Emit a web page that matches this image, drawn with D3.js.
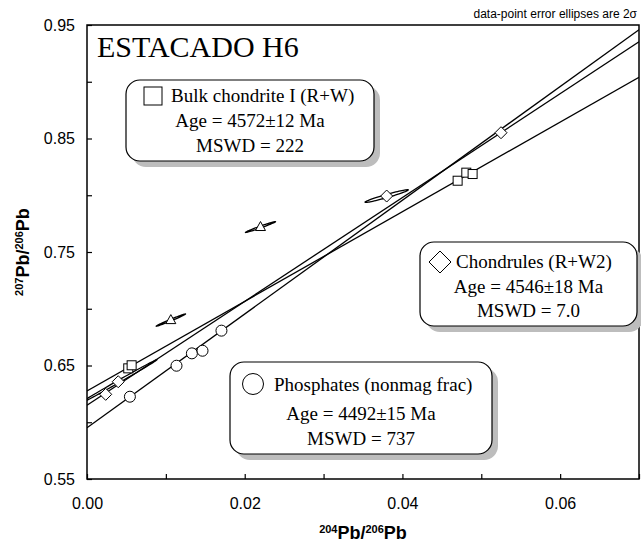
<!DOCTYPE html>
<html>
<head>
<meta charset="utf-8">
<script src="https://cdn.jsdelivr.net/npm/d3@7"></script>
<style>
  body { margin: 0; background: #fff; }
  svg { display: block; }
</style>
</head>
<body>
<div id="chart"></div>
<script>
// data
let phosX = [0.00544, 0.01135, 0.0133, 0.01465, 0.01705];
let phosY = [0.6225, 0.6498, 0.6607, 0.6630, 0.6807];

let bulkX = [0.00523, 0.00566, 0.0470, 0.0481, 0.0489];
let bulkY = [0.6475, 0.6502, 0.8128, 0.8199, 0.8187];

let chonX = [0.00237, 0.00396, 0.0380, 0.0525];
let chonY = [0.6246, 0.6357, 0.7993, 0.8551];

let triX = [0.01063, 0.0220];
let triY = [0.6900, 0.7720];

// error ellipses (2 sigma): point, sx, sy, rho
let ellX = [0.01063, 0.0220, 0.0380, 0.00396];
let ellY = [0.6900, 0.7720, 0.7993, 0.6357];
let ellSx = [0.00186, 0.0019, 0.00274, 0.0049];
let ellSy = [0.0054, 0.0048, 0.0056, 0.0194];
let ellRho = [0.99, 0.985, 0.965, 0.998];

// regression lines: intercept, slope
let lineNames = ["Phosphates", "Chondrules", "Bulk"];
let lineB = [0.5952, 0.6150, 0.6275];
let lineM = [5.01, 4.575, 3.95];

let xTicks = [0, 0.01, 0.02, 0.03, 0.04, 0.05, 0.06, 0.07];
let yTicks = [0.55, 0.60, 0.65, 0.70, 0.75, 0.80, 0.85, 0.90, 0.95];

let legendNames = ["Bulk chondrite I (R+W)", "Chondrules (R+W2)", "Phosphates (nonmag frac)"];
let legendAges = ["Age = 4572\u00b112 Ma", "Age = 4546\u00b118 Ma", "Age = 4492\u00b115 Ma"];
let legendMswd = ["MSWD = 222", "MSWD = 7.0", "MSWD = 737"];

let W = 641, H = 543;
let margin = { top: 25, right: 2, bottom: 64, left: 87 };
let width = W - margin.left - margin.right, height = H - margin.top - margin.bottom;

let x = d3.scaleLinear().domain([0, 0.07]).range([margin.left, margin.left + width]);
let y = d3.scaleLinear().domain([0.55, 0.95]).range([margin.top + height, margin.top]);

const svg = d3.select("#chart").append("svg")
  .attr("width", W).attr("height", H)
  .style("font-family", "Arial, 'Liberation Sans', sans-serif");

svg.append("defs").append("clipPath")
  .attr("id", "clipPlot")
  .append("rect")
  .attr("x", margin.left).attr("y", margin.top)
  .attr("width", width).attr("height", height);

// axes with inward ticks
let xAxis = d3.axisBottom(x).tickValues(xTicks).tickSize(-5).tickPadding(19)
  .tickFormat(d => Math.round(d * 100) % 2 == 0 && d < 0.07 ? d.toFixed(2) : "");
let yAxis = d3.axisLeft(y).tickValues(yTicks).tickSize(-5).tickPadding(12)
  .tickFormat(d => Math.round((d - 0.55) * 20) % 2 == 0 ? d.toFixed(2) : "");

let gx = svg.append("g").attr("transform", "translate(0," + (margin.top + height) + ")").call(xAxis);
let gy = svg.append("g").attr("transform", "translate(" + margin.left + ",0)").call(yAxis);
[gx, gy].forEach(g => {
  g.select(".domain").remove();
  g.selectAll("line").attr("stroke", "#000").attr("stroke-width", 1.2);
  g.selectAll("text").attr("font-size", 16).attr("fill", "#000")
    .style("font-family", "Arial, 'Liberation Sans', sans-serif");
});

// frame
svg.append("rect")
  .attr("x", margin.left).attr("y", margin.top)
  .attr("width", width).attr("height", height)
  .attr("fill", "none").attr("stroke", "#000").attr("stroke-width", 1.5);

const plot = svg.append("g").attr("clip-path", "url(#clipPlot)");

// regression lines
plot.selectAll(".fit")
  .data(lineNames)
  .join("line")
  .attr("class", "fit")
  .attr("x1", x(0)).attr("x2", x(0.07))
  .attr("y1", (d, i) => y(lineB[i]))
  .attr("y2", (d, i) => y(lineB[i] + lineM[i] * 0.07))
  .attr("stroke", "#000").attr("stroke-width", 1.3);

// error ellipses
let ellipsePath = function (i) {
  let pts = d3.range(0, 73).map(k => {
    let t = k / 72 * 2 * Math.PI;
    let dx = ellSx[i] * Math.cos(t);
    let dy = ellSy[i] * (ellRho[i] * Math.cos(t) + Math.sqrt(1 - ellRho[i] * ellRho[i]) * Math.sin(t));
    return [x(ellX[i] + dx), y(ellY[i] + dy)];
  });
  return d3.line()(pts) + "Z";
};
plot.selectAll(".ell")
  .data(ellX)
  .join("path")
  .attr("class", "ell")
  .attr("d", (d, i) => ellipsePath(i))
  .attr("fill", "none").attr("stroke", "#000").attr("stroke-width", 1.3);

// markers
plot.selectAll(".phos")
  .data(phosX)
  .join("circle")
  .attr("cx", d => x(d)).attr("cy", (d, i) => y(phosY[i]))
  .attr("r", 5.5)
  .attr("fill", "#fff").attr("stroke", "#000").attr("stroke-width", 1);

plot.selectAll(".bulk")
  .data(bulkX)
  .join("rect")
  .attr("x", d => x(d) - 4.5).attr("y", (d, i) => y(bulkY[i]) - 4.5)
  .attr("width", 9).attr("height", 9)
  .attr("fill", "#fff").attr("stroke", "#000").attr("stroke-width", 1);

plot.selectAll(".chon")
  .data(chonX)
  .join("path")
  .attr("d", "M0,-6L6,0L0,6L-6,0Z")
  .attr("transform", (d, i) => "translate(" + x(d) + "," + y(chonY[i]) + ")")
  .attr("fill", "#fff").attr("stroke", "#000").attr("stroke-width", 1);

plot.selectAll(".tri")
  .data(triX)
  .join("path")
  .attr("d", "M0,-5.5L5,3.5L-5,3.5Z")
  .attr("transform", (d, i) => "translate(" + x(d) + "," + y(triY[i]) + ")")
  .attr("fill", "#fff").attr("stroke", "#000").attr("stroke-width", 1);

// legend boxes
let boxes = [
  { x: 126, y: 80, w: 248, h: 81, tx: 171, lines: [102, 127, 152] },
  { x: 420, y: 242, w: 217, h: 84, tx: 456, lines: [268, 293, 317] },
  { x: 230, y: 362, w: 262, h: 92, tx: 274, lines: [391, 420, 445] }
];
let serif = "'Times New Roman', 'Liberation Serif', serif";
boxes.forEach((b, i) => {
  let g = svg.append("g")
    .attr("font-family", serif).attr("font-size", 19).attr("fill", "#000");
  g.append("rect")
    .attr("x", b.x + 6).attr("y", b.y + 6).attr("width", b.w).attr("height", b.h)
    .attr("rx", 14).attr("fill", "#bdbdbd");
  g.append("rect")
    .attr("x", b.x).attr("y", b.y).attr("width", b.w).attr("height", b.h)
    .attr("rx", 14).attr("fill", "#fff").attr("stroke", "#000").attr("stroke-width", 1.2);
  let cx = b.x + b.w / 2;
  g.append("text").attr("x", b.tx).attr("y", b.lines[0])
    .text(legendNames[i]);
  g.append("text").attr("x", cx).attr("y", b.lines[1])
    .attr("text-anchor", "middle")
    .text(legendAges[i]);
  g.append("text").attr("x", cx).attr("y", b.lines[2])
    .attr("text-anchor", "middle")
    .text(legendMswd[i]);
});
// legend markers
svg.append("rect").attr("x", 144).attr("y", 87).attr("width", 18).attr("height", 18)
  .attr("fill", "#fff").attr("stroke", "#000").attr("stroke-width", 1);
svg.append("path").attr("d", "M0,-11L11,0L0,11L-11,0Z")
  .attr("transform", "translate(440,262)")
  .attr("fill", "#fff").attr("stroke", "#000").attr("stroke-width", 1);
svg.append("circle").attr("cx", 253).attr("cy", 384).attr("r", 10.5)
  .attr("fill", "#fff").attr("stroke", "#000").attr("stroke-width", 1);

// titles
svg.append("text")
  .attr("x", 97).attr("y", 57)
  .attr("font-family", serif).attr("font-size", 30)
  .text("ESTACADO H6");

svg.append("text")
  .attr("x", 637).attr("y", 18)
  .attr("text-anchor", "end").attr("font-size", 12)
  .text("data-point error ellipses are 2\u03c3");

let xt = svg.append("text")
  .attr("x", margin.left + width / 2).attr("y", 539)
  .attr("text-anchor", "middle").attr("font-weight", "bold").attr("font-size", 18);
xt.append("tspan").attr("font-size", 11).attr("dy", -6).text("204");
xt.append("tspan").attr("dy", 6).text("Pb/");
xt.append("tspan").attr("font-size", 11).attr("dy", -6).text("206");
xt.append("tspan").attr("dy", 6).text("Pb");

let yt = svg.append("text")
  .attr("transform", "translate(29," + (margin.top + height / 2) + ") rotate(-90)")
  .attr("text-anchor", "middle").attr("font-weight", "bold").attr("font-size", 18);
yt.append("tspan").attr("font-size", 11).attr("dy", -6).text("207");
yt.append("tspan").attr("dy", 6).text("Pb/");
yt.append("tspan").attr("font-size", 11).attr("dy", -6).text("206");
yt.append("tspan").attr("dy", 6).text("Pb");
</script>
</body>
</html>
